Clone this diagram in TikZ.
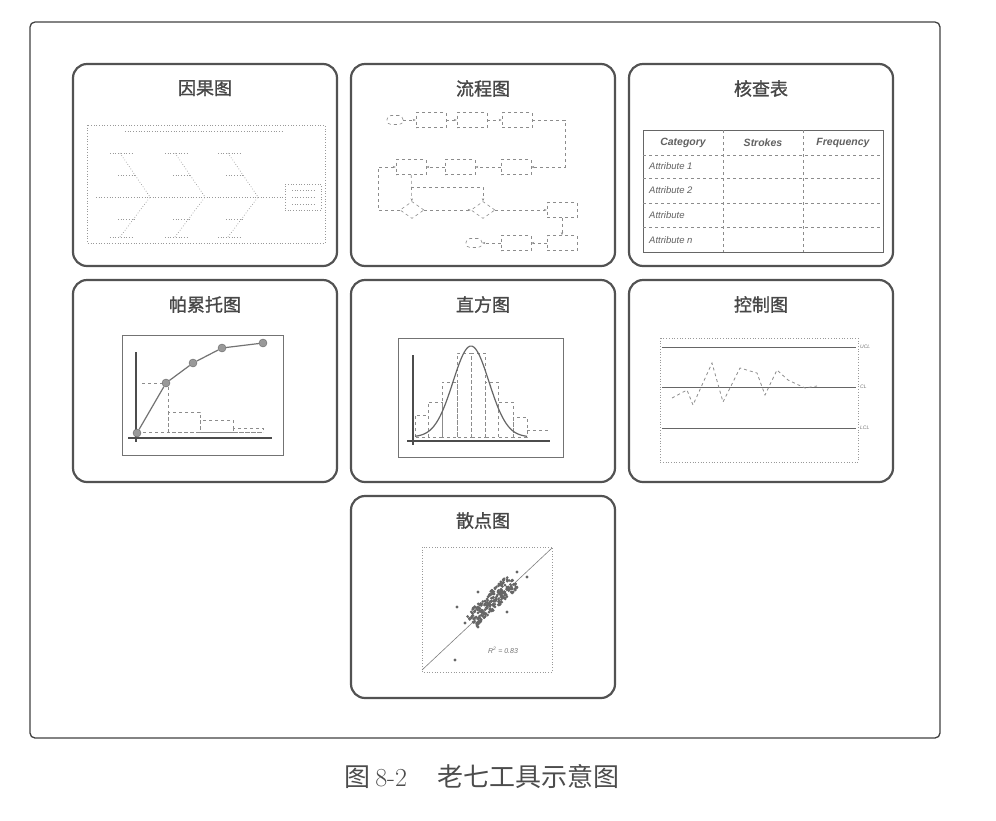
\documentclass[tikz,border=0pt]{standalone}
\usepackage{fontspec}
\setsansfont{Liberation Sans}
\newfontfamily\cjk{Noto Sans CJK SC}
\newfontfamily\cjkb[FakeBold=1.2]{Noto Sans CJK SC}
\usetikzlibrary{arrows.meta,positioning,shapes.geometric}

\begin{document}
\begin{tikzpicture}[x=1pt,y=-1pt,node distance=14pt and 14pt,>=Stealth,
  panel/.style={draw=black!68,line width=2.2pt,rounded corners=14pt,minimum width=264pt,minimum height=202pt,outer sep=0pt,fill=white},
  ttl/.style={font=\cjkb\fontsize{18}{18}\selectfont,text=black!72,inner sep=0pt},
  faint/.style={draw=black!40,line width=0.7pt,dotted},
  fbox/.style={draw=black!45,dashed,line width=0.6pt,minimum width=30pt,minimum height=15pt,inner sep=0pt},
  fterm/.style={fbox,rounded corners=4pt,minimum width=16pt,minimum height=9pt},
  fdia/.style={draw=black!45,dashed,diamond,line width=0.6pt,minimum width=24pt,minimum height=17pt,inner sep=0pt},
  fl/.style={draw=black!45,dashed,line width=0.6pt,-{Stealth[length=3pt]}},
  cell/.style={font=\sffamily\itshape\fontsize{9.5}{10}\selectfont,text=black!62,inner sep=0pt},
  hcell/.style={cell,font=\sffamily\bfseries\itshape\fontsize{10.5}{11}\selectfont},
  bar/.style={draw=black!45,dashed,line width=0.6pt},
  axis/.style={draw=black!70,line width=1.4pt},
  dot/.style={circle,fill=black!40,draw=black!60,minimum size=8pt,inner sep=0pt},
  tiny/.style={font=\sffamily\itshape\fontsize{5}{5}\selectfont,text=black!55,inner sep=1pt}]
\useasboundingbox (0,0) rectangle (996,820);
% outer frame
\draw[black!75,line width=1.3pt,rounded corners=5pt] (30,22) rectangle (940,738);

% panels
\node[panel] (yg) at (205,165) {};
\node[panel,right=of yg] (lc) {};
\node[panel,right=of lc] (hc) {};
\node[panel,below=of yg] (pl) {};
\node[panel,below=of lc] (zf) {};
\node[panel,below=of hc] (kz) {};
\node[panel,below=of zf] (sd) {};
\node[ttl,below=16pt of yg.north] (tyg) {因果图};
\node[ttl,below=16pt of lc.north] (tlc) {流程图};
\node[ttl,below=16pt of hc.north] (thc) {核查表};
\node[ttl,below=16pt of pl.north] (tpl) {帕累托图};
\node[ttl,below=16pt of zf.north] (tzf) {直方图};
\node[ttl,below=16pt of kz.north] (tkz) {控制图};
\node[ttl,below=16pt of sd.north] (tsd) {散点图};

% cause and effect
\draw[faint] (87,125) rectangle (325,243);
\draw[faint] (125,131) -- (283,131);
\node[draw=black!40,dotted,line width=0.7pt,minimum width=36pt,minimum height=26pt] (eff) at (303,197) {};
\coordinate (tail) at (96,197);
\draw[faint] (tail) -- (eff);
\foreach \bx in {150,205,258} {
  \draw[faint] (\bx-30,153) -- (\bx,197);
  \draw[faint] (\bx-30,237) -- (\bx,197);
  \draw[faint] (\bx-40,153) -- (\bx-18,153);
  \draw[faint] (\bx-40,237) -- (\bx-18,237);
  \draw[faint] (\bx-32,175) -- (\bx-15,175);
  \draw[faint] (\bx-32,219) -- (\bx-15,219);
}
\draw[faint] (292,190) -- (314,190);
\draw[faint] (292,197) -- (316,197);
\draw[faint] (292,204) -- (316,204);

% flow chart
\node[fterm] (t1) at (395,120) {};
\node[fbox] (b1) at (431,120) {};
\node[fbox] (b2) at (472,120) {};
\node[fbox] (b3) at (517,120) {};
\node[fbox] (b4) at (411,167) {};
\node[fbox] (b5) at (460,167) {};
\node[fbox] (b6) at (516,167) {};
\node[fdia] (d1) at (412,210) {};
\node[fdia] (d2) at (483,210) {};
\node[fbox] (b7) at (562,210) {};
\node[fbox] (b8) at (562,243) {};
\node[fbox] (b9) at (516,243) {};
\node[fterm] (t2) at (474,243) {};
\coordinate (k1) at (565,167);
\coordinate (k2) at (378,210);
\coordinate (k4) at (411,187);
\draw[fl] (t1) -- (b1);
\draw[fl] (b1) -- (b2);
\draw[fl] (b2) -- (b3);
\draw[fl] (b3) -| (k1) -- (b6);
\draw[fl] (b6) -- (b5);
\draw[fl] (b5) -- (b4);
\draw[fl] (b4) -- (d1);
\draw[fl] (k4) -| (d2);
\draw[fl] (d1) -- (k2) |- (b4);
\draw[fl] (d1) -- (d2);
\draw[fl] (d2) -- (b7);
\draw[fl] (b7) -- (b8);
\draw[fl] (b8) -- (b9);
\draw[fl] (b9) -- (t2);

% check sheet
\draw[black!60,line width=1pt] (643,130) rectangle (883,252);
\foreach \cx in {723,803} \draw[bar] (\cx,130) -- (\cx,252);
\foreach \ry in {155,178,203,227} \draw[bar] (643,\ry) -- (883,\ry);
\node[hcell] (hcat) at (683,143) {Category};
\node[hcell] (hstr) at (763,143) {Strokes};
\node[hcell] (hfrq) at (843,143) {Frequency};
\foreach \ry/\lab in {166/Attribute 1,190/Attribute 2,215/Attribute,240/Attribute n}
  \node[cell,anchor=west] (at\ry) at (649,\ry) {\lab};

% pareto
\draw[black!55,line width=0.8pt] (122,335) rectangle (283,455);
\draw[bar] (142,383) -- (168,383) -- (168,432);
\draw[bar] (168,412) rectangle (200,432);
\draw[bar] (200,420) rectangle (233,432);
\draw[bar] (233,428) rectangle (263,432);
\draw[bar] (137,432) -- (263,432);
\draw[axis] (136,352) -- (136,442);
\draw[axis] (128,438) -- (272,438);
\foreach \n/\px/\py in {1/137/433,2/166/383,3/193/363,4/222/348,5/263/343}
  \node[dot] (p\n) at (\px,\py) {};
\draw[black!55,line width=1.2pt] (p1) -- (p2) -- (p3) -- (p4) -- (p5);

% histogram
\draw[black!55,line width=0.8pt] (398,338) rectangle (563,457);
\foreach \bl/\br/\bt in {415/428/415,428/442/402,442/457/382,457/471/353,471/485/353,485/498/382,498/513/402,513/527/417}
  \draw[bar] (\bl,437) rectangle (\br,\bt);
\draw[bar] (527,430) -- (550,430);
\draw[axis] (413,355) -- (413,445);
\draw[axis] (407,441) -- (550,441);
\draw[black!60,line width=1.2pt] plot[domain=-56:56,samples=60,smooth] ({471+\x},{437-91*exp(-(\x*\x)/648)});

% control chart
\draw[faint] (660,338) rectangle (858,462);
\foreach \ly/\lt in {347/UCL,387/CL,428/LCL} {
  \draw[black!60,line width=1pt] (662,\ly) -- (856,\ly);
  \node[tiny,anchor=west] (l\lt) at (859,\ly) {\lt};
}
\draw[black!45,dashed,line width=0.8pt] (672,398) -- (687,390) -- (693,405) -- (712,363) -- (723,402) -- (740,368) -- (757,373) -- (765,395) -- (777,370) -- (788,380) -- (805,388) -- (817,386);

% scatter
\draw[faint] (422,547) rectangle (552,672);
\draw[black!50,line width=0.6pt] (422,670) -- (552,548);
\pgfmathsetseed{7}
\foreach \i in {1,...,240} {
  \pgfmathsetmacro\ta{rand*30}
  \pgfmathsetmacro\tb{rand*8}
  \fill[black!60] ({492+0.729*\ta+0.684*\tb},{601-0.684*\ta+0.729*\tb}) circle (1.5pt);
}
\foreach \ox/\oy in {455/660,457/607,527/577,517/572,478/592,507/612,465/623,478/627}
  \fill[black!60] (\ox,\oy) circle (1.6pt);
\node[font=\sffamily\itshape\fontsize{7}{7}\selectfont,text=black!55] (r2) at (503,650) {R\textsuperscript{2} = 0.83};

% caption
\node[font=\cjk\fontsize{26}{26}\selectfont,text=black!70] (cap) at (482,777) {图\,{\rmfamily 8-2}\hspace{30pt}老七工具示意图};
\end{tikzpicture}
\end{document}
